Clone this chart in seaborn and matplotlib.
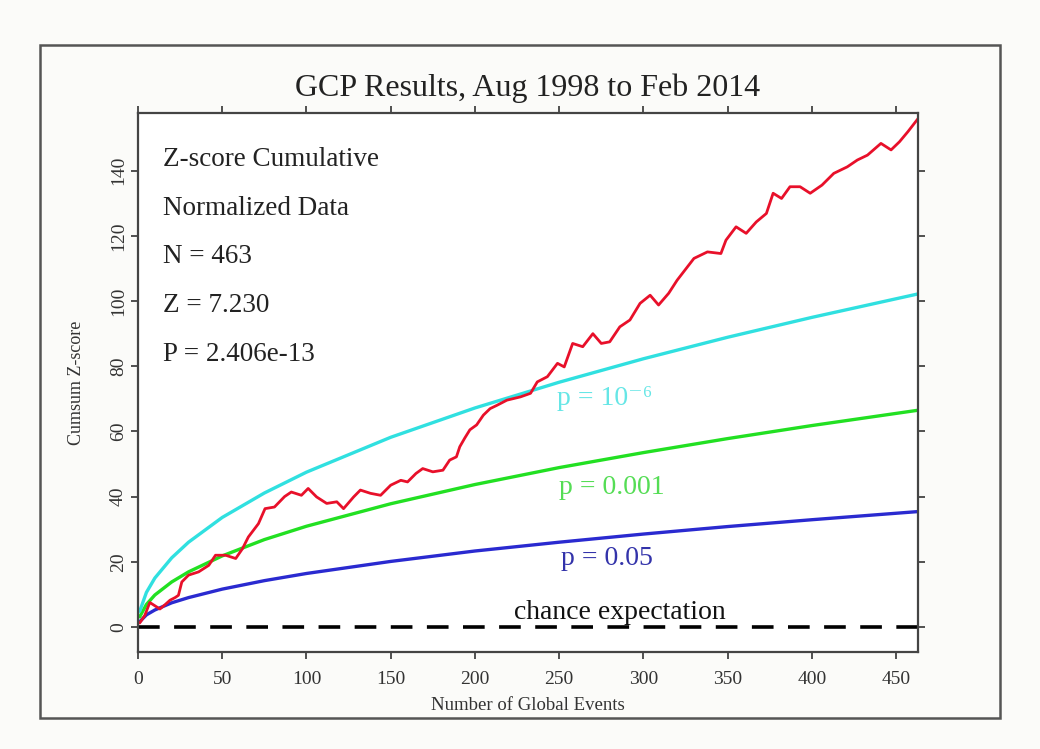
import numpy as np
import pandas as pd
import seaborn as sns
import matplotlib.pyplot as plt
from matplotlib.patches import Rectangle

# ----------------------------------------------------------
# values
# ----------------------------------------------------------
events = [1, 4, 7, 10, 13, 16, 19, 22, 24, 26, 30, 36, 42, 46, 52, 58, 62, 65.5,
          71.5, 75.4, 81, 87, 91, 97, 101, 106, 112, 118, 122, 128, 132, 138, 144,
          150, 156, 160, 165, 169, 175, 181, 185, 189, 191, 194, 197, 201, 205, 209,
          213, 219, 227, 233, 237, 243, 249, 253, 258, 264, 270, 275, 280, 286, 292,
          298, 304, 309, 315, 320, 330, 338, 346, 349, 355, 361, 367, 373, 377, 382,
          387, 393, 399, 406, 413, 421, 427, 433, 441, 447, 452, 457, 463]
cumz = [1.2, 3.5, 7.5, 6.5, 5.5, 6.8, 8.2, 9.0, 9.7, 13.8, 15.9, 16.9, 18.9, 22.0,
        22.0, 21.0, 24.0, 27.6, 31.7, 36.3, 36.8, 40.0, 41.4, 40.4, 42.5, 39.9, 37.9,
        38.4, 36.3, 39.9, 42.0, 41.0, 40.4, 43.5, 45.0, 44.5, 47.1, 48.6, 47.6, 48.1,
        51.2, 52.2, 55.3, 58.0, 60.5, 62.0, 65.0, 67.0, 68.0, 69.6, 70.6, 71.7, 75.2,
        76.8, 80.9, 79.8, 87.0, 86.0, 90.0, 87.0, 87.5, 92.1, 94.2, 99.3, 101.8, 98.8,
        102.4, 106.4, 113.1, 115.1, 114.6, 118.7, 122.8, 120.8, 124.3, 126.9, 133.1,
        131.5, 135.1, 135.1, 133.1, 135.6, 139.2, 141.2, 143.3, 144.8, 148.4, 146.4,
        148.9, 152.0, 156.0]

env_x = [1, 5, 10, 20, 30, 50, 75, 100, 150, 200, 250, 300, 350, 400, 463]
p05 = [1.6, 3.7, 5.2, 7.4, 9.0, 11.6, 14.2, 16.4, 20.1, 23.3, 26.0, 28.5, 30.8, 32.9, 35.4]
p001 = [3.1, 6.9, 9.8, 13.8, 16.9, 21.8, 26.8, 30.9, 37.8, 43.7, 48.9, 53.5, 57.8, 61.8, 66.5]
p1e6 = [4.8, 10.6, 15.0, 21.2, 26.0, 33.6, 41.1, 47.5, 58.2, 67.2, 75.1, 82.3, 88.9, 95.0, 102.2]

chance_x = [0, 463]
chance_y = [0, 0]

stats_lines = ["Z-score Cumulative", "Normalized Data", "N = 463", "Z = 7.230", "P = 2.406e-13"]

data = pd.DataFrame({"events": events, "cumz": cumz})
env = pd.DataFrame({"events": env_x, "p05": p05, "p001": p001, "p1e6": p1e6})

# ----------------------------------------------------------
# plot
# ----------------------------------------------------------
sns.set_style("ticks")
plt.rcParams["font.family"] = ["Liberation Serif", "DejaVu Serif"]

fig = plt.figure(figsize=(10.4, 7.49), dpi=100, facecolor="#fbfbf9")
ax = fig.add_axes([0.1327, 0.1295, 0.75, 0.7195])
ax.set_facecolor("white")

# frame around everything
fig.patches.append(Rectangle((40 / 1040, 1 - 718 / 749), 960 / 1040, 673 / 749,
                             transform=fig.transFigure, fill=False,
                             edgecolor="#555555", linewidth=1.8))

sns.lineplot(x=chance_x, y=chance_y, ax=ax, color="black", linewidth=2.6,
             linestyle=(0, (6, 4)))
sns.lineplot(data=env, x="events", y="p05", ax=ax, color="#2a2ad0", linewidth=2.4)
sns.lineplot(data=env, x="events", y="p001", ax=ax, color="#22e022", linewidth=2.4)
sns.lineplot(data=env, x="events", y="p1e6", ax=ax, color="#30e0e0", linewidth=2.4)
sns.lineplot(data=data, x="events", y="cumz", ax=ax, color="#e8102a", linewidth=2.0)

ax.set_xlim(0, 463)
ax.set_ylim(-7.7, 157.7)
ax.set_xticks(range(0, 451, 50))
ax.set_yticks(range(0, 141, 20))
ax.tick_params(axis="both", direction="out", length=5, width=1.2, labelsize=14,
               colors="#333333", top=True, right=True)
ax.tick_params(axis="x", pad=9)
ax.tick_params(axis="y", pad=3)
for lab in ax.get_yticklabels():
    lab.set_rotation(90)
    lab.set_va("center")
for s in ax.spines.values():
    s.set_color("#444444")
    s.set_linewidth(1.6)

ax.set_xlabel("Number of Global Events", fontsize=13.5, color="#333333")
ax.set_ylabel("Cumsum Z-score", fontsize=13, color="#333333")
ax.xaxis.set_label_coords(0.5, -0.083)
ax.yaxis.set_label_coords(-0.068, 0.5)
ax.set_title("GCP Results, Aug 1998 to Feb 2014", fontsize=23, pad=12, color="#222222")

for i, line in enumerate(stats_lines):
    ax.text(0.032, 0.914 - i * 0.0905, line, transform=ax.transAxes, fontsize=19.5,
            color="#222222", va="center")

ax.text(277, 70.2, "p = 10⁻⁶", color="#66e6e6", fontsize=20, ha="center", va="center")
ax.text(281.5, 42.9, "p = 0.001", color="#55dd55", fontsize=20, ha="center", va="center")
ax.text(278.5, 21.1, "p = 0.05", color="#3333aa", fontsize=20, ha="center", va="center")
ax.text(286, 4.5, "chance expectation", color="#111111", fontsize=20, ha="center",
        va="center")

fig.savefig("out.png", dpi=100, facecolor=fig.get_facecolor())
